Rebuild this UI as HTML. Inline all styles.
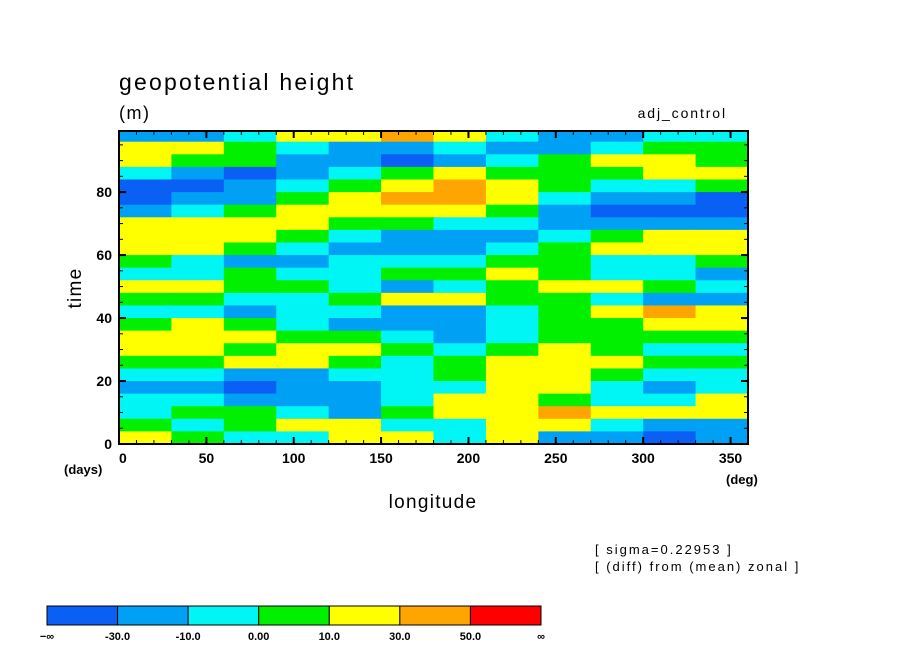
<!DOCTYPE html>
<html><head><meta charset="utf-8"><style>
body{margin:0;background:#fff;width:904px;height:654px;overflow:hidden}
svg text{font-family:"Liberation Sans",sans-serif;fill:#000}
</style></head><body>
<svg id="chart" width="904" height="654" viewBox="0 0 904 654">
<g id="cells"></g>
<rect x="119" y="131" width="629" height="313" fill="none" stroke="#000" stroke-width="2"/>
<g id="ticks"></g>
<text x="119" y="90" font-size="23" letter-spacing="2.2">geopotential height</text>
<text x="119" y="119" font-size="18" letter-spacing="1.5">(m)</text>
<text x="727" y="118" font-size="14" text-anchor="end" letter-spacing="1.9">adj_control</text>
<text transform="translate(81,288) rotate(-90)" font-size="19" text-anchor="middle" letter-spacing="1.3">time</text>
<text x="433" y="508" font-size="19" text-anchor="middle" letter-spacing="1.3">longitude</text>
<text x="64" y="474" font-size="13" font-weight="bold">(days)</text>
<text x="726" y="484" font-size="13" font-weight="bold">(deg)</text>
<text x="595" y="554" font-size="13" letter-spacing="2">[ sigma=0.22953 ]</text>
<text x="595" y="571" font-size="13" letter-spacing="2">[ (diff) from (mean) zonal ]</text>
<g id="cbar"></g>
</svg>
<script>
const lonEdges=[0,30,60,90,120,150,180,210,240,270,300,330,360];
const timeEdges=[100,96,92,88,84,80,76,72,68,64,60,56,52,48,44,40,36,32,28,24,20,16,12,8,4,0];
const gridValues=[
[-20,-20,-5,20,20,40,20,-5,-20,-20,-5,-5],
[20,20,5,-5,-20,-20,-5,-20,-20,-5,5,5],
[20,5,5,-20,-20,-35,-20,-5,5,20,20,5],
[-5,-20,-35,-20,-5,5,20,5,5,5,20,20],
[-35,-35,-20,-5,5,20,40,20,5,-5,-5,5],
[-35,-20,-20,5,20,40,40,20,-5,-20,-20,-35],
[-20,-5,5,20,20,20,20,5,-20,-35,-35,-35],
[20,20,20,20,5,5,-5,-5,-20,-20,-20,-20],
[20,20,20,5,-5,-20,-20,-20,-5,5,20,20],
[20,20,5,-5,-20,-20,-20,-5,5,20,20,20],
[5,-5,-20,-20,-5,-5,-5,5,5,-5,-5,5],
[-5,-5,5,-5,-5,5,5,20,5,-5,-5,-20],
[20,20,5,5,-5,-20,-5,5,20,20,5,-5],
[5,5,-5,-5,5,20,20,5,5,-5,-20,-20],
[-5,-5,-20,-5,-5,-20,-20,-5,5,20,40,20],
[5,20,5,-5,-20,-20,-20,-5,5,5,20,20],
[20,20,20,5,5,-5,-20,-5,5,5,5,5],
[20,20,5,20,20,5,-5,5,20,5,-5,-5],
[5,5,20,20,5,-5,5,20,20,20,5,5],
[-5,-5,-20,-20,-5,-5,5,20,20,5,-5,-5],
[-20,-20,-35,-20,-20,-5,-5,20,20,-5,-20,-5],
[-5,-5,-20,-20,-20,-5,20,20,5,-5,-5,20],
[-5,5,5,-5,-20,5,20,20,40,20,20,20],
[5,-5,5,20,20,-5,-5,20,20,-5,-20,-20],
[20,5,-5,-5,20,20,-5,20,-20,-20,-35,-20]];
const levels=[-30,-10,0,10,30,50];
const levelLabels=["−∞","-30.0","-10.0","0.00","10.0","30.0","50.0","∞"];
const colors=["#0a5ff5","#00a0f5","#00f5f5","#00f000","#ffff00","#ffa500","#ff0000"];
const yTicks=[0,20,40,60,80];
const xTicks=[0,50,100,150,200,250,300,350];
const NS="http://www.w3.org/2000/svg";
const X=l=>119+l*(629/360), Y=t=>444-t*(313/99.4);
function colorOf(v){let i=0;while(i<levels.length&&v>=levels[i])i++;return colors[i];}
function mk(tag,attrs,parent){const e=document.createElementNS(NS,tag);for(const k in attrs)e.setAttribute(k,attrs[k]);parent.appendChild(e);return e;}
const cells=document.getElementById('cells');
gridValues.forEach((row,r)=>row.forEach((v,c)=>{
 const y0=Math.max(Y(timeEdges[r]),131), y1=Y(timeEdges[r+1]);
 const e=mk('rect',{x:X(lonEdges[c]),y:y0,width:X(lonEdges[c+1])-X(lonEdges[c])+0.5,height:y1-y0+0.5,fill:colorOf(v)},cells);
 
 
}));
const tk=document.getElementById('ticks');
for(let l=0;l<=360;l+=10){const len=l%50===0?7:4;
 mk('line',{x1:X(l),y1:444,x2:X(l),y2:444-len,stroke:'#000','stroke-width':l%50===0?2:1},tk);
 mk('line',{x1:X(l),y1:131,x2:X(l),y2:131+len,stroke:'#000','stroke-width':l%50===0?2:1},tk);}
for(let t=0;t<=95;t+=5){const len=t%20===0?7:4;
 mk('line',{x1:119,y1:Y(t),x2:119+len,y2:Y(t),stroke:'#000','stroke-width':t%20===0?2:1},tk);
 mk('line',{x1:748,y1:Y(t),x2:748-len,y2:Y(t),stroke:'#000','stroke-width':t%20===0?2:1},tk);}
yTicks.forEach(t=>{const e=mk('text',{x:112,y:Y(t)+5,'font-size':14,'font-weight':'bold','text-anchor':'end'},tk);e.textContent=t;
 
 });
xTicks.forEach(l=>{const e=mk('text',{x:X(l),y:463,'font-size':14,'font-weight':'bold','text-anchor':l===0?'start':'middle'},tk);e.textContent=l;
 
 });
const cb=document.getElementById('cbar');const bw=(541-47)/colors.length;
colors.forEach((c,i)=>{const e=mk('rect',{x:47+i*bw,y:606,width:bw,height:19,fill:c,stroke:'#000','stroke-width':1},cb);
 
 });
levelLabels.forEach((s,i)=>{const e=mk('text',{x:47+i*bw,y:640,'font-size':11,'font-weight':'bold','text-anchor':'middle'},cb);e.textContent=s;
 
 });
</script>
</body></html>
